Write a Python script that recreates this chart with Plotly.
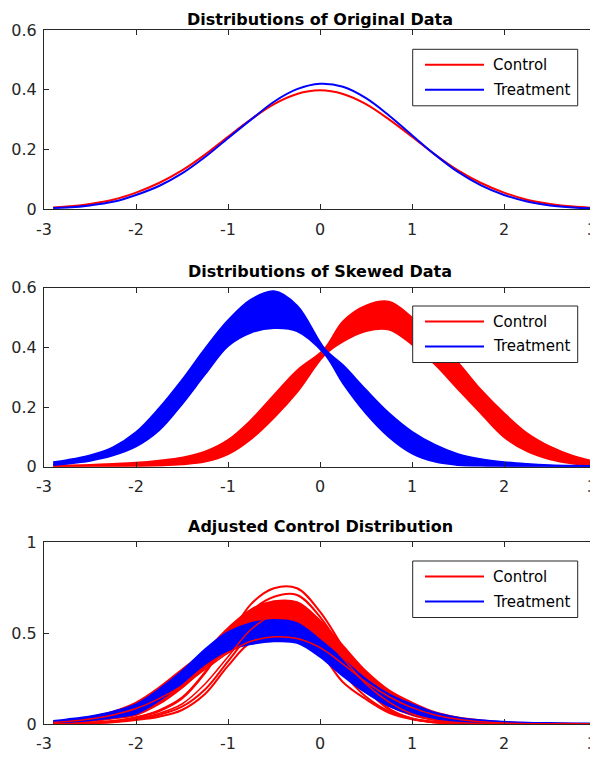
import plotly.graph_objects as go

# ---------------- data ----------------
x_grid = [-2.9, -2.75, -2.5, -2.25, -2.0, -1.75, -1.5, -1.25, -1.0, -0.75, -0.5, -0.25,
          0.0, 0.25, 0.5, 0.75, 1.0, 1.25, 1.5, 1.75, 2.0, 2.25, 2.5, 2.75, 2.97]
# the skewed-data panel is sampled at the crossing point (0.05) instead of 0
x_skew = [-2.9, -2.75, -2.5, -2.25, -2.0, -1.75, -1.5, -1.25, -1.0, -0.75, -0.5, -0.25,
          0.05, 0.25, 0.5, 0.75, 1.0, 1.25, 1.5, 1.75, 2.0, 2.25, 2.5, 2.75, 2.97]

# Panel 1: original data densities
orig_control = [0.006, 0.009, 0.018, 0.032, 0.056, 0.088, 0.130, 0.183, 0.243, 0.301, 0.352, 0.386,
                0.398, 0.386, 0.352, 0.301, 0.243, 0.183, 0.130, 0.088, 0.056, 0.032, 0.018, 0.009, 0.005]
orig_treatment = [0.004, 0.006, 0.013, 0.025, 0.048, 0.078, 0.120, 0.175, 0.238, 0.300, 0.360, 0.402,
                  0.420, 0.410, 0.372, 0.314, 0.248, 0.183, 0.125, 0.080, 0.048, 0.026, 0.013, 0.006, 0.003]

# Panel 2: skewed data, upper / lower edges of the bundle of curves
skew_treat_hi = [0.015, 0.022, 0.038, 0.065, 0.115, 0.195, 0.290, 0.395, 0.490, 0.560, 0.588, 0.540,
                 0.395, 0.340, 0.257, 0.179, 0.117, 0.073, 0.042, 0.025, 0.015, 0.009, 0.005, 0.003, 0.002]
skew_treat_lo = [0.006, 0.010, 0.020, 0.038, 0.068, 0.122, 0.210, 0.310, 0.405, 0.450, 0.465, 0.455,
                 0.378, 0.280, 0.179, 0.100, 0.045, 0.017, 0.006, 0.003, 0.001, 0.000, 0.000, 0.000, 0.000]
skew_ctrl_hi = [0.003, 0.004, 0.006, 0.009, 0.013, 0.020, 0.030, 0.050, 0.089, 0.156, 0.240, 0.322,
                0.395, 0.487, 0.540, 0.553, 0.500, 0.430, 0.349, 0.257, 0.179, 0.112, 0.067, 0.036, 0.018]
skew_ctrl_lo = [0.000, 0.000, 0.001, 0.001, 0.002, 0.004, 0.008, 0.017, 0.042, 0.093, 0.165, 0.250,
                0.375, 0.420, 0.455, 0.460, 0.410, 0.343, 0.260, 0.179, 0.100, 0.052, 0.025, 0.011, 0.005]

# Panel 3: adjusted control
adj_treat_hi = [0.016, 0.025, 0.042, 0.068, 0.108, 0.190, 0.290, 0.410, 0.505, 0.555, 0.572, 0.555,
                0.462, 0.356, 0.246, 0.163, 0.108, 0.062, 0.035, 0.020, 0.012, 0.007, 0.005, 0.003, 0.002]
adj_treat_lo = [0.006, 0.011, 0.021, 0.036, 0.058, 0.130, 0.225, 0.330, 0.405, 0.440, 0.455, 0.447,
                0.370, 0.264, 0.172, 0.099, 0.053, 0.026, 0.011, 0.005, 0.002, 0.001, 0.000, 0.000, 0.000]
adj_ctrl_hi = [0.012, 0.020, 0.038, 0.068, 0.118, 0.200, 0.300, 0.400, 0.527, 0.630, 0.675, 0.670,
               0.570, 0.430, 0.290, 0.185, 0.118, 0.065, 0.036, 0.020, 0.010, 0.005, 0.003, 0.001, 0.000]
adj_ctrl_core_lo = [0.004, 0.008, 0.016, 0.030, 0.050, 0.110, 0.200, 0.310, 0.400, 0.450, 0.470, 0.460,
                    0.390, 0.270, 0.175, 0.100, 0.050, 0.022, 0.009, 0.003, 0.001, 0.000, 0.000, 0.000, 0.000]
adj_ctrl_lo = [0.000, 0.001, 0.004, 0.010, 0.022, 0.040, 0.077, 0.165, 0.320, 0.450, 0.470, 0.460,
               0.390, 0.230, 0.136, 0.062, 0.026, 0.011, 0.004, 0.001, 0.000, 0.000, 0.000, 0.000, 0.000]
adj_ctrl_low2 = [0.000, 0.001, 0.005, 0.012, 0.026, 0.050, 0.095, 0.190, 0.345, 0.500, 0.590, 0.570,
                 0.450, 0.280, 0.150, 0.070, 0.030, 0.011, 0.004, 0.001, 0.000, 0.000, 0.000, 0.000, 0.000]
adj_ctrl_top1 = [0.001, 0.002, 0.006, 0.015, 0.035, 0.070, 0.140, 0.280, 0.470, 0.660, 0.747, 0.747,
                 0.618, 0.420, 0.200, 0.080, 0.028, 0.008, 0.002, 0.000, 0.000, 0.000, 0.000, 0.000, 0.000]
adj_ctrl_top2 = [0.001, 0.002, 0.007, 0.016, 0.037, 0.075, 0.145, 0.285, 0.460, 0.620, 0.700, 0.710,
                 0.590, 0.400, 0.205, 0.085, 0.030, 0.009, 0.002, 0.000, 0.000, 0.000, 0.000, 0.000, 0.000]
adj_ctrl_over1 = [0.001, 0.002, 0.006, 0.014, 0.030, 0.058, 0.110, 0.220, 0.370, 0.520, 0.600, 0.600,
                  0.500, 0.360, 0.220, 0.120, 0.055, 0.022, 0.008, 0.003, 0.001, 0.000, 0.000, 0.000, 0.000]
adj_ctrl_over2 = [0.008, 0.014, 0.028, 0.050, 0.085, 0.140, 0.210, 0.300, 0.390, 0.455, 0.480, 0.470,
                  0.420, 0.330, 0.230, 0.150, 0.090, 0.050, 0.026, 0.012, 0.005, 0.002, 0.001, 0.000, 0.000]

titles = ["Distributions of Original Data", "Distributions of Skewed Data", "Adjusted Control Distribution"]
legend_names = ["Control", "Treatment"]
x_ticks = [-3, -2, -1, 0, 1, 2, 3]
x_ticktext = ["-3", "-2", "-1", "0", "1", "2", ""]   # the "3" at the right edge is placed separately
x_last_label = "3"
y_ticks_small = [0, 0.2, 0.4, 0.6]
y_ticktext_small = ["0", "0.2", "0.4", "0.6"]
y_ticks_big = [0, 0.5, 1]
y_ticktext_big = ["0", "0.5", "1"]

# ---------------- styling ----------------
RED = "rgb(255,0,0)"
BLUE = "rgb(0,0,255)"
AX = "#262626"
FONT = "DejaVu Sans"
OFF = 8                      # page body margin of the browser
W, H = 598 - OFF, 759 - OFF
ML, MR = 36, 2
PW = W - ML - MR

def px_x(p):                 # screen pixel -> paper x
    return (p - OFF - ML) / PW

def px_y(p):                 # screen pixel -> paper y
    return 1 - (p - OFF) / H

fig = go.Figure()

def line(xs, xref, yref, y, color, width=2):
    fig.add_trace(go.Scatter(x=xs, y=y, mode="lines", xaxis=xref, yaxis=yref,
                             line=dict(color=color, width=width, shape="spline", smoothing=1.0),
                             showlegend=False, hoverinfo="skip"))

def band(xs, xref, yref, lo, hi, color):
    fig.add_trace(go.Scatter(x=xs, y=lo, mode="lines", xaxis=xref, yaxis=yref,
                             line=dict(color=color, width=2, shape="spline"),
                             showlegend=False, hoverinfo="skip"))
    fig.add_trace(go.Scatter(x=xs, y=hi, mode="lines", xaxis=xref, yaxis=yref,
                             line=dict(color=color, width=2, shape="spline"),
                             fill="tonexty", fillcolor=color,
                             showlegend=False, hoverinfo="skip"))

# panel 1
line(x_grid, "x", "y", orig_control, RED)
line(x_grid, "x", "y", orig_treatment, BLUE)
# panel 2
band(x_skew, "x2", "y2", skew_ctrl_lo, skew_ctrl_hi, RED)
band(x_skew, "x2", "y2", skew_treat_lo, skew_treat_hi, BLUE)
# panel 3
band(x_grid, "x3", "y3", adj_ctrl_core_lo, adj_ctrl_hi, RED)
line(x_grid, "x3", "y3", adj_ctrl_lo, RED)
line(x_grid, "x3", "y3", adj_ctrl_low2, RED)
line(x_grid, "x3", "y3", adj_ctrl_top1, RED)
line(x_grid, "x3", "y3", adj_ctrl_top2, RED)
band(x_grid, "x3", "y3", adj_treat_lo, adj_treat_hi, BLUE)
line(x_grid, "x3", "y3", adj_ctrl_over1, RED, 1.5)
line(x_grid, "x3", "y3", adj_ctrl_over2, RED, 1.5)

domains = [(209.3, 30.0), (466.7, 287.7), (724.0, 542.3)]   # (bottom, top) screen pixels
title_y = [15.0, 271.7, 526.7]
legend_top = [49.3, 306.0, 561.0]
xlabel_y = [229.5, 486.5, 743.5]

axis_common = dict(showline=True, linecolor=AX, linewidth=1, mirror="ticks",
                   ticks="inside", ticklen=5, tickwidth=1, tickcolor=AX,
                   showgrid=False, zeroline=False, automargin=False,
                   tickfont=dict(family=FONT, size=16, color=AX))

layout = dict(width=W, height=H, template="none", paper_bgcolor="white", plot_bgcolor="white",
              margin=dict(l=ML, r=MR, t=0, b=0, autoexpand=False), showlegend=False)

shapes = []
annotations = []
for i in range(3):
    sfx = "" if i == 0 else str(i + 1)
    bot, top = domains[i]
    yt, ytt = (y_ticks_big, y_ticktext_big) if i == 2 else (y_ticks_small, y_ticktext_small)
    yr = [0, 1] if i == 2 else [0, 0.6]
    layout["xaxis" + sfx] = dict(axis_common, domain=[0, 1], range=[-3, 3], anchor="y" + sfx,
                                 tickvals=x_ticks, ticktext=x_ticktext, ticklabelstandoff=5,
                                 ticklabeloverflow="allow")
    layout["yaxis" + sfx] = dict(axis_common, domain=[px_y(bot), px_y(top)], range=yr,
                                 anchor="x" + sfx, tickvals=yt, ticktext=ytt, ticklabelstandoff=3,
                                 ticklabeloverflow="allow")
    # right-most x tick label, kept just inside the page edge
    annotations.append(dict(text=x_last_label, x=px_x(598), y=px_y(xlabel_y[i]),
                            xref="paper", yref="paper", xanchor="right", yanchor="middle",
                            showarrow=False, borderpad=0,
                            font=dict(family=FONT, size=16, color=AX)))
    if i == 0:
        ty, tanchor = 1.0, "top"
    else:
        ty, tanchor = px_y(title_y[i]), "middle"
    annotations.append(dict(text="<b>" + titles[i] + "</b>", x=px_x(320.2), y=ty,
                            xref="paper", yref="paper", xanchor="center", yanchor=tanchor,
                            showarrow=False, font=dict(family=FONT, size=16, color="black")))
    T = legend_top[i]
    shapes.append(dict(type="rect", xref="paper", yref="paper",
                       x0=px_x(412.7), x1=px_x(577.7), y0=px_y(T + 56.5), y1=px_y(T),
                       line=dict(color=AX, width=1), fillcolor="white", layer="above"))
    for j, (nm, col) in enumerate(zip(legend_names, [RED, BLUE])):
        yy = px_y(T + 15.5 + 25 * j)
        shapes.append(dict(type="line", xref="paper", yref="paper",
                           x0=px_x(425), x1=px_x(484), y0=yy, y1=yy,
                           line=dict(color=col, width=2), layer="above"))
        annotations.append(dict(text=nm, x=px_x(490.7), y=yy, xref="paper", yref="paper",
                                xanchor="left", yanchor="middle", showarrow=False,
                                font=dict(family=FONT, size=15, color="black")))

layout["shapes"] = shapes
layout["annotations"] = annotations
fig.update_layout(**layout)
fig.write_html("out.html")
